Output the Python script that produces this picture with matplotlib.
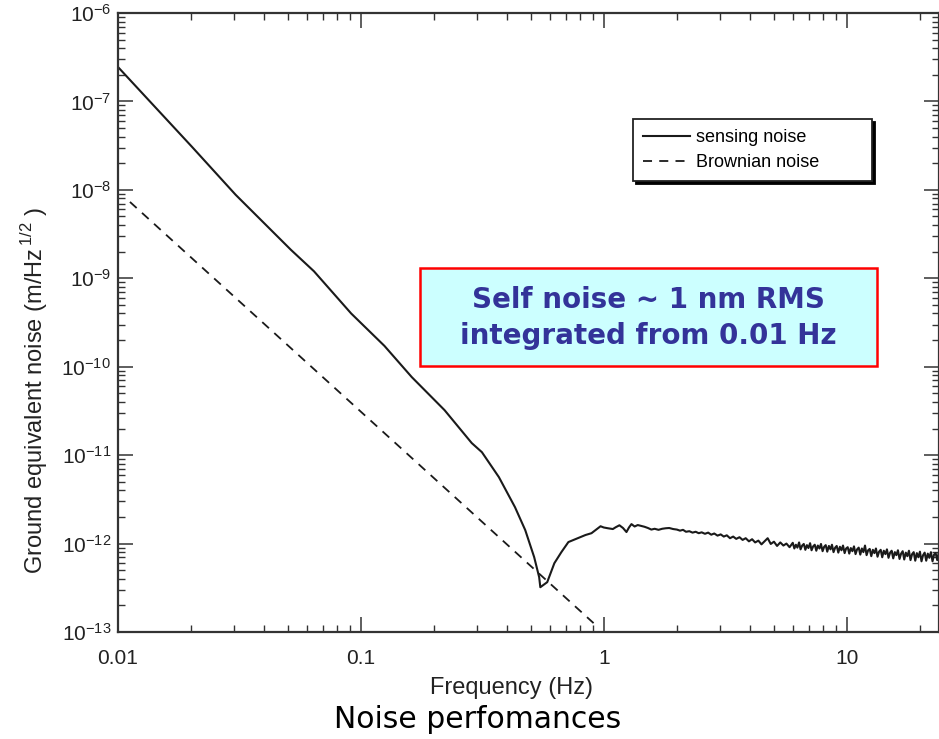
import numpy as np
import matplotlib
matplotlib.use("Agg")
import matplotlib.pyplot as plt
from matplotlib.patches import Rectangle
from matplotlib.ticker import LogLocator, FuncFormatter, NullFormatter

plt.rcParams["font.family"] = ["Liberation Sans", "DejaVu Sans"]
plt.rcParams["mathtext.fontset"] = "custom"
plt.rcParams["mathtext.rm"] = "Liberation Sans"

# sensing noise (Hz, m/Hz^1/2)
sens_f = [0.0100, 0.0202, 0.0305, 0.0515, 0.0641, 0.0912, 0.125, 0.162,
          0.221, 0.286, 0.315, 0.370, 0.431, 0.475, 0.517, 0.542, 0.548, 0.585,
          0.626, 0.669, 0.715, 0.841, 0.89, 0.97]
sens_v = [2.45e-7, 3.05e-8, 8.8e-9, 2.1e-9, 1.2e-9, 4.0e-10, 1.72e-10,
          7.63e-11, 3.23e-11, 1.37e-11, 1.08e-11, 5.64e-12, 2.58e-12, 1.42e-12,
          7.02e-13, 4.17e-13, 3.21e-13, 3.66e-13, 6.0e-13, 8.0e-13, 1.04e-12,
          1.25e-12, 1.31e-12, 1.57e-12]

# 1 - 6 Hz (values in units of 1e-12)
mid_f = [1.00, 1.04, 1.09, 1.12, 1.16, 1.20, 1.24, 1.27, 1.30, 1.34, 1.38, 1.43,
         1.47, 1.52, 1.57, 1.62, 1.68, 1.74, 1.80, 1.86, 1.93, 2.00, 2.06, 2.12,
         2.18, 2.25, 2.32, 2.39, 2.46, 2.53, 2.61, 2.69, 2.77, 2.85, 2.94, 3.03,
         3.12, 3.21, 3.31, 3.41, 3.51, 3.62, 3.73, 3.84, 3.96, 4.08, 4.20, 4.33,
         4.46, 4.59, 4.73, 4.87, 5.02, 5.17, 5.33, 5.49, 5.65, 5.82]
mid_v = [1.52, 1.49, 1.46, 1.53, 1.61, 1.50, 1.35, 1.52, 1.66, 1.56, 1.62, 1.58,
         1.55, 1.50, 1.44, 1.47, 1.43, 1.47, 1.49, 1.50, 1.46, 1.44, 1.40, 1.43,
         1.36, 1.38, 1.33, 1.36, 1.31, 1.34, 1.29, 1.33, 1.26, 1.30, 1.23, 1.27,
         1.20, 1.24, 1.15, 1.20, 1.13, 1.18, 1.10, 1.15, 1.06, 1.12, 1.03, 1.08,
         0.98, 1.06, 1.15, 0.99, 1.05, 0.94, 1.03, 0.95, 1.00, 0.91]

# 6 - 25 Hz, the noisy band (units of 1e-12)
hf_f = [6.00, 6.09, 6.18, 6.27, 6.37, 6.46, 6.56, 6.66, 6.76, 6.86,
        6.96, 7.07, 7.17, 7.28, 7.39, 7.50, 7.61, 7.73, 7.84, 7.96,
        8.08, 8.20, 8.32, 8.45, 8.58, 8.70, 8.83, 8.97, 9.10, 9.24,
        9.38, 9.52, 9.66, 9.81, 9.95, 10.1, 10.25, 10.4, 10.56, 10.72,
        10.88, 11.04, 11.21, 11.38, 11.55, 11.72, 11.9, 12.08, 12.26, 12.44,
        12.63, 12.82, 13.01, 13.2, 13.4, 13.6, 13.81, 14.01, 14.22, 14.44,
        14.65, 14.87, 15.1, 15.32, 15.55, 15.79, 16.02, 16.26, 16.51, 16.76,
        17.01, 17.26, 17.52, 17.78, 18.05, 18.32, 18.6, 18.88, 19.16, 19.45,
        19.74, 20.03, 20.33, 20.64, 20.95, 21.26, 21.58, 21.9, 22.23, 22.57,
        22.9, 23.25, 23.6, 23.95, 24.3, 24.67, 24.8]
hf_v = [1.02, 0.88, 0.97, 0.90, 1.03, 0.86, 0.95, 0.99, 0.85, 0.96,
        0.89, 1.01, 0.84, 0.93, 0.97, 0.83, 0.95, 0.88, 0.99, 0.82,
        0.92, 0.96, 0.81, 0.94, 0.86, 0.97, 0.80, 0.90, 0.94, 0.79,
        0.92, 0.84, 0.95, 0.78, 0.88, 0.91, 0.77, 0.89, 0.82, 0.93,
        0.76, 0.86, 0.90, 0.75, 0.88, 0.80, 0.95, 0.74, 0.84, 0.87,
        0.72, 0.85, 0.78, 0.88, 0.71, 0.81, 0.85, 0.70, 0.83, 0.76,
        0.86, 0.69, 0.79, 0.83, 0.68, 0.80, 0.74, 0.84, 0.67, 0.77,
        0.82, 0.66, 0.79, 0.72, 0.83, 0.65, 0.76, 0.80, 0.64, 0.78,
        0.70, 0.81, 0.63, 0.74, 0.79, 0.64, 0.77, 0.69, 0.80, 0.63,
        0.75, 0.78, 0.65, 0.79, 0.70, 0.83, 0.76]

# brownian noise, straight line on log-log
brown_f = [0.0112, 0.908]
brown_v = [7.3e-9, 1.26e-13]

x_ticks = [0.01, 0.1, 1, 10]
x_ticklabels = ["0.01", "0.1", "1", "10"]


def ytick_fmt(v, pos):
    e = int(round(np.log10(v)))
    return r"$\mathregular{10^{%d}}$" % e


def main():
    fig = plt.figure(figsize=(9.39, 7.39), dpi=100)
    ax = fig.add_axes([118 / 939, 1 - 632 / 739, 821 / 939, 619 / 739])

    f = np.array(sens_f + mid_f + hf_f)
    v = np.array(sens_v + [x * 1e-12 for x in mid_v + hf_v])
    ax.plot(f, v, color="#1a1a1a", lw=1.5, label="sensing noise")
    ax.plot(brown_f, brown_v, color="#1a1a1a", lw=1.3, dashes=(5, 4),
            label="Brownian noise")

    ax.set_xscale("log")
    ax.set_yscale("log")
    ax.set_xlim(0.01, 24)
    ax.set_ylim(1e-13, 1e-6)

    ax.set_xticks(x_ticks)
    ax.set_xticklabels(x_ticklabels)
    ax.xaxis.set_minor_locator(LogLocator(base=10, subs=np.arange(2, 10)))
    ax.xaxis.set_minor_formatter(NullFormatter())
    ax.yaxis.set_major_locator(LogLocator(base=10, numticks=20))
    ax.yaxis.set_minor_locator(LogLocator(base=10, subs=np.arange(2, 10), numticks=20))
    ax.yaxis.set_major_formatter(FuncFormatter(ytick_fmt))
    ax.yaxis.set_minor_formatter(NullFormatter())

    ax.tick_params(which="both", direction="in", top=True, right=True,
                   colors="#333333", labelcolor="#222222")
    ax.tick_params(which="major", length=11, width=1.1, labelsize=15, pad=12)
    ax.tick_params(which="minor", length=5, width=1.0)
    ax.tick_params(axis="y", which="major", pad=5)
    for s in ax.spines.values():
        s.set_linewidth(1.6)
        s.set_color("#333333")

    fig.text(35 / 939, 1 - 390 / 739,
             r"Ground equivalent noise (m/Hz$^{\mathregular{\,1/2}}$ )",
             rotation=90, ha="center", va="center", fontsize=17, color="#222222")
    fig.text(512 / 939, 1 - 688 / 739, "Frequency (Hz)", ha="center",
             va="center", fontsize=17, color="#222222")
    fig.text(478 / 939, 1 - 720 / 739, "Noise perfomances", ha="center",
             va="center", fontsize=21.5, family=["DejaVu Sans"], color="black")

    leg = ax.legend(loc="upper left",
                    bbox_to_anchor=(633 / 939, 1 - 187 / 739, 239 / 939, 68 / 739),
                    bbox_transform=fig.transFigure, borderaxespad=0, mode="expand",
                    fontsize=13, handlelength=2.6, handletextpad=0.35,
                    borderpad=0.55, labelspacing=0.45, fancybox=False,
                    shadow={"color": "black", "alpha": 1, "ox": 2, "oy": -2})
    leg.get_frame().set_edgecolor("#222222")
    leg.get_frame().set_linewidth(1.3)

    fig.patches.append(Rectangle((420 / 939, 1 - 366 / 739), 457 / 939, 98 / 739,
                                 transform=fig.transFigure, facecolor="#ccffff",
                                 edgecolor="#ff0000", lw=1.8))
    fig.text(648 / 939, 1 - 300 / 739, "Self noise ~ 1 nm RMS", ha="center",
             va="center", fontsize=20, fontweight="bold", color="#333399",
             family=["DejaVu Sans"])
    fig.text(648 / 939, 1 - 336 / 739, "integrated from 0.01 Hz", ha="center",
             va="center", fontsize=20, fontweight="bold", color="#333399",
             family=["DejaVu Sans"])

    fig.savefig("out.png", dpi=100)


if __name__ == "__main__":
    main()
